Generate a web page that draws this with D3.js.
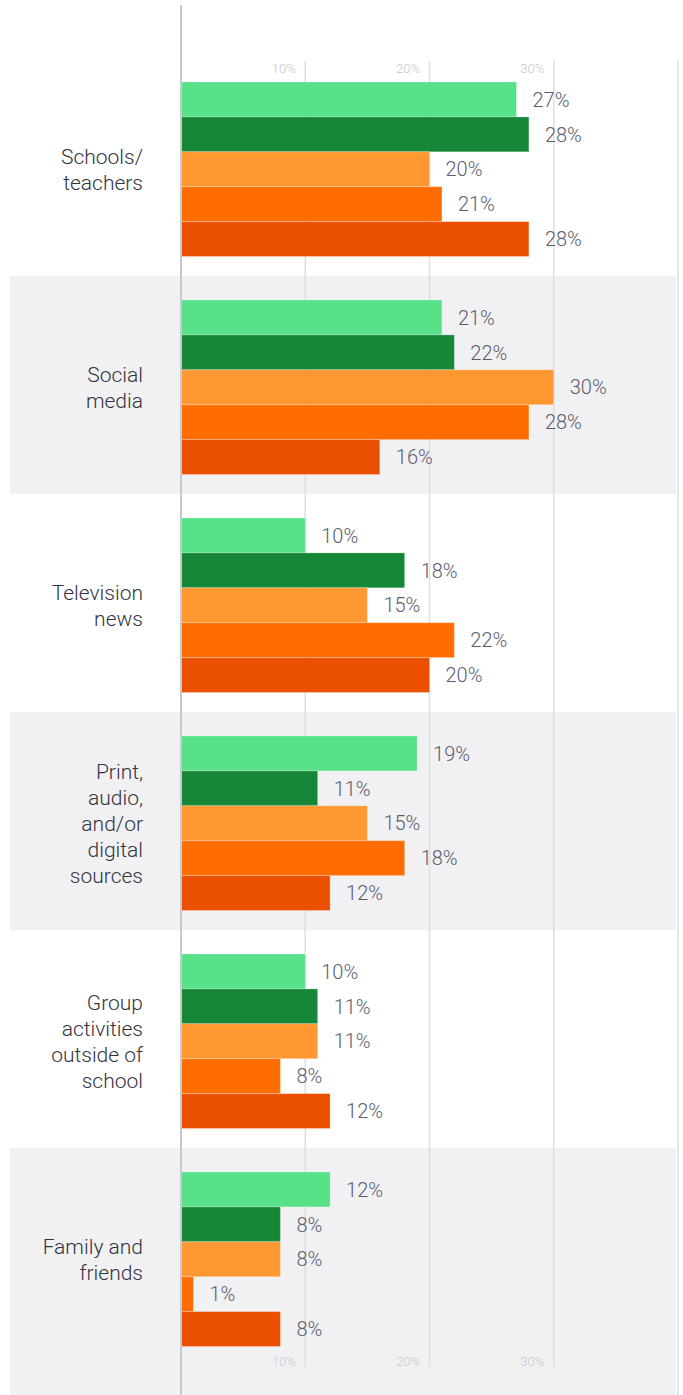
<!DOCTYPE html>
<html>
<head>
<meta charset="utf-8">
<script src="https://cdn.jsdelivr.net/npm/d3@7"></script>
<style>
  body { margin: 0; background: #fff; }
  svg { display: block; font-family: Roboto, "Noto Sans", sans-serif; }
</style>
</head>
<body>
<div id="chart"></div>
<script>
// categories (label lines) and values per series
var categories = ["Schools/\nteachers", "Social\nmedia", "Television\nnews",
    "Print,\naudio,\nand/or\ndigital\nsources", "Group\nactivities\noutside of\nschool",
    "Family and\nfriends"];
var series = ["s1", "s2", "s3", "s4", "s5"];
var colors = ["#57e188", "#168736", "#ff9831", "#ff6d00", "#ea5000"];

var s1 = [27, 21, 10, 19, 10, 12];
var s2 = [28, 22, 18, 11, 11, 8];
var s3 = [20, 30, 15, 15, 11, 8];
var s4 = [21, 28, 22, 18, 8, 1];
var s5 = [28, 16, 20, 12, 12, 8];
var values = [s1, s2, s3, s4, s5];

var tickVals = [10, 20, 30];
var gridVals = [10, 20, 30, 40];

var width = 683,
    height = 1395;

var svg = d3.select("#chart").append("svg")
    .attr("width", width)
    .attr("height", height);

var x = d3.scaleLinear().domain([0, 40]).range([181, 678]);

var y = d3.scaleBand()
    .domain(d3.range(categories.length))
    .range([58, 58 + 218 * categories.length]);

// bars sit inside each band, 24px below its top
var yInner = d3.scaleBand()
    .domain(series)
    .range([24, 24 + 174.5]);

// alternate grey bands
svg.selectAll("rect.band")
    .data(d3.range(categories.length).filter(function(i) { return i % 2 == 1; }))
    .enter()
    .append("rect")
    .attr("class", "band")
    .attr("x", 10)
    .attr("width", 666)
    .attr("y", function(i) { return y(i); })
    .attr("height", function(i) {
        return i == categories.length - 1 ? height - y(i) : y.bandwidth();
    })
    .attr("fill", "#f1f1f3");

// grid lines
svg.selectAll("line.grid")
    .data(gridVals)
    .enter()
    .append("line")
    .attr("class", "grid")
    .attr("x1", function(d) { return x(d); })
    .attr("x2", function(d) { return x(d); })
    .attr("y1", 61)
    .attr("y2", function(d) { return d == 40 ? height : 1367; })
    .attr("stroke", "#dedee4")
    .attr("stroke-width", 1.5);

// top and bottom tick labels
function styleAxis(g) {
    g.select(".domain").remove();
    g.selectAll(".tick line").remove();
    g.selectAll(".tick text")
        .attr("x", -10)
        .attr("y", 0)
        .attr("dy", 0)
        .attr("text-anchor", "end")
        .attr("fill", "#c6c6cf")
        .style("font-size", "13px")
        .style("font-weight", 300)
        .style("font-family", "Roboto, sans-serif");
}

var xAxis = d3.axisTop(x)
    .tickValues(tickVals)
    .tickFormat(function(d) { return d + "%"; });

svg.append("g").attr("transform", "translate(0,73)").call(xAxis).call(styleAxis);
svg.append("g").attr("transform", "translate(0,1366)").call(xAxis).call(styleAxis);

// bars
var groups = svg.selectAll("g.cat")
    .data(categories)
    .enter()
    .append("g")
    .attr("class", "cat")
    .attr("transform", function(d, i) { return "translate(0," + y(i) + ")"; });

groups.each(function(c, ci) {
    var g = d3.select(this);
    var rows = series.map(function(s, si) {
        return { s: s, v: values[si][ci], color: colors[si] };
    });

    g.selectAll("rect.bar")
        .data(rows)
        .enter()
        .append("rect")
        .attr("class", "bar")
        .attr("x", x(0))
        .attr("y", function(d) { return yInner(d.s); })
        .attr("width", function(d) { return x(d.v) - x(0); })
        .attr("height", yInner.bandwidth())
        .attr("fill", function(d) { return d.color; })
        .attr("stroke", "rgba(255,255,255,0.25)")
        .attr("stroke-width", 1);

    g.selectAll("text.val")
        .data(rows)
        .enter()
        .append("text")
        .attr("class", "val")
        .attr("x", function(d) { return x(d.v) + 16; })
        .attr("y", function(d) { return yInner(d.s) + yInner.bandwidth() / 2; })
        .attr("dy", "0.36em")
        .attr("fill", "#5c5c70")
        .style("font-size", "20px")
        .style("font-weight", 300)
        .text(function(d) { return d.v + "%"; });

    // category label, right aligned, centred on the bars
    var lines = c.split("\n");
    var mid = 24 + 174.5 / 2;
    g.append("text")
        .attr("text-anchor", "end")
        .attr("fill", "#33333f")
        .style("font-size", "21px")
        .style("font-weight", 300)
        .selectAll("tspan")
        .data(lines)
        .enter()
        .append("tspan")
        .attr("x", 143)
        .attr("y", function(d, i) { return mid + (i - (lines.length - 1) / 2) * 26; })
        .attr("dy", "0.35em")
        .text(function(d) { return d; });
});

// left axis line
svg.append("line")
    .attr("x1", x(0))
    .attr("x2", x(0))
    .attr("y1", 5)
    .attr("y2", height)
    .attr("stroke", "#c8c8d0")
    .attr("stroke-width", 2);
</script>
</body>
</html>
